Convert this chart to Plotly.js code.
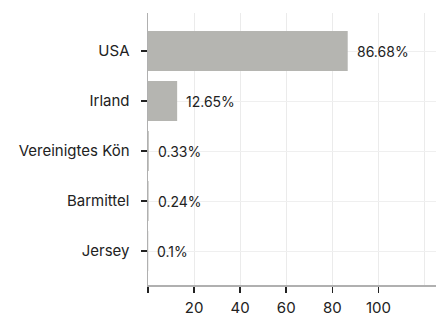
<!DOCTYPE html>
<html><head><meta charset="utf-8">
<script src="https://cdn.plot.ly/plotly-3.0.1.min.js"></script>
<style>html,body{margin:0;padding:0;background:#fff}#c{width:443px;height:316px}</style>
</head><body><div id="c"></div>
<script>
var categories = ["USA", "Irland", "Vereinigtes Kön", "Barmittel", "Jersey"];
var values = [86.68, 12.65, 0.33, 0.24, 0.1];
var labels = ["86.68%", "12.65%", "0.33%", "0.24%", "0.1%"];
var xTicks = [0, 20, 40, 60, 80, 100];
var xTickText = ["", "20", "40", "60", "80", "100"];

var ann = categories.map(function (c, i) {
  return {x: values[i], y: c, xref: "x", yref: "y", text: labels[i],
    showarrow: false, xanchor: "left", yanchor: "middle", xshift: 7,
    font: {family: "Inter", size: 14, color: "#222"}};
});

Plotly.newPlot("c", [{
  type: "bar", orientation: "h",
  x: values, y: categories,
  marker: {color: "#b5b5b1"}, width: 0.8,
  hoverinfo: "none"
}], {
  width: 443, height: 316,
  margin: {l: 148, r: 7, t: 13, b: 31},
  paper_bgcolor: "#fff", plot_bgcolor: "#fff",
  font: {family: "Inter", size: 15, color: "#222"},
  showlegend: false,
  annotations: ann,
  xaxis: {
    range: [0, 125], tickvals: xTicks, ticktext: xTickText,
    showgrid: true, gridcolor: "#ebebeb", gridwidth: 1,
    zeroline: false, showline: true, linecolor: "#b0b0b0", linewidth: 1.5,
    ticks: "outside", ticklen: 6, tickcolor: "#222", tickwidth: 1.5,
    ticklabelstandoff: 2,
    minor: {tickvals: [120], showgrid: true, gridcolor: "#ebebeb", ticks: ""},
    tickfont: {family: "Inter", size: 15, color: "#222"}
  },
  yaxis: {
    type: "category", categoryorder: "array", categoryarray: categories,
    range: [4.68, -0.76],
    showgrid: true, gridcolor: "#efefef", gridwidth: 1,
    zeroline: false, showline: true, linecolor: "#b0b0b0", linewidth: 1.5,
    ticks: "outside", ticklen: 6, tickcolor: "#222", tickwidth: 1.5,
    ticklabelstandoff: 8,
    tickfont: {family: "Inter", size: 15, color: "#222"}
  }
}, {displayModeBar: false, staticPlot: true});
</script></body></html>
